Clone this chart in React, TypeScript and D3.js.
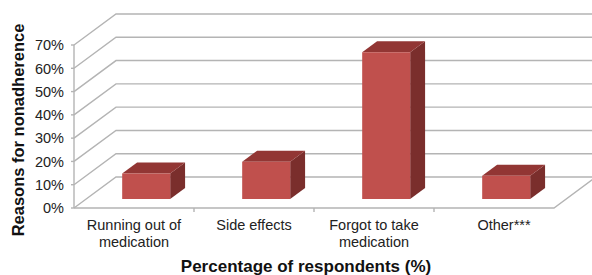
import React from "react";
import * as d3 from "d3";

const categories: string[][] = [
  ["Running out of", "medication"],
  ["Side effects"],
  ["Forgot to take", "medication"],
  ["Other***"],
];
const values: number[] = [11, 16, 63, 10];
const yTicks: number[] = [0, 10, 20, 30, 40, 50, 60, 70];

const W = 592;
const H = 275;
const X0 = 74;
const X1 = 554;
const Y0 = 208;
const Y70 = 45;
const DX = 42;
const DY = -31;
const Z_FRONT = 0.29;
const Z_BACK = 0.645;

export default function App() {
  const x = d3
    .scaleBand<number>()
    .domain(categories.map((_, i) => i))
    .range([X0, X1])
    .paddingInner(0)
    .paddingOuter(0);
  const y = d3.scaleLinear().domain([0, 70]).range([Y0, Y70]);
  const proj = (px: number, v: number, z: number): [number, number] => [
    px + z * DX,
    y(v) + z * DY,
  ];
  const pts = (arr: [number, number][]) => arr.map((p) => p.join(",")).join(" ");
  const line = d3.line();

  const grid = "#B4B4B4";
  const font = "'Liberation Sans', Arial, sans-serif";
  const bw = x.bandwidth() / 2.5;

  return (
    <svg width={W} height={H} style={{ position: "absolute", left: 0, top: 0 }}>
      <rect width={W} height={H} fill="#fff" />
      {yTicks.map((t) => (
        <g key={t}>
          <path
            d={line([proj(X0, t, 0), proj(X0, t, 1), proj(X1 + 60, t, 1)]) || ""}
            fill="none"
            stroke={grid}
            strokeWidth={1.4}
          />
          <line x1={X0 - 3} x2={X0} y1={y(t)} y2={y(t)} stroke={grid} strokeWidth={1.4} />
          <text
            x={X0 - 10}
            y={y(t)}
            dy="0.36em"
            textAnchor="end"
            fontFamily={font}
            fontSize={14.5}
            fill="#222"
          >
            {t}%
          </text>
        </g>
      ))}
      <line x1={X0} x2={X0} y1={y(0)} y2={y(70)} stroke={grid} strokeWidth={1.4} />
      <path
        d={line([proj(X0, 0, 0), proj(X1, 0, 0), proj(X1, 0, 1)]) || ""}
        fill="none"
        stroke={grid}
        strokeWidth={1.4}
      />
      {categories.slice(1).map((_, i) => {
        const bx = x(i + 1)!;
        return (
          <line key={i} x1={bx} x2={bx} y1={y(0)} y2={y(0) + 4} stroke={grid} strokeWidth={1.4} />
        );
      })}
      {values.map((v, i) => {
        const cx = x(i)! + x.bandwidth() / 2;
        const l = cx - bw / 2;
        const r = cx + bw / 2;
        const front: [number, number][] = [
          proj(l, 0, Z_FRONT),
          proj(r, 0, Z_FRONT),
          proj(r, v, Z_FRONT),
          proj(l, v, Z_FRONT),
        ];
        const top: [number, number][] = [
          proj(l, v, Z_FRONT),
          proj(r, v, Z_FRONT),
          proj(r, v, Z_BACK),
          proj(l, v, Z_BACK),
        ];
        const side: [number, number][] = [
          proj(r, 0, Z_FRONT),
          proj(r, 0, Z_BACK),
          proj(r, v, Z_BACK),
          proj(r, v, Z_FRONT),
        ];
        return (
          <g key={i}>
            <polygon points={pts(side)} fill="#7A2E2C" />
            <polygon points={pts(top)} fill="#923634" />
            <polygon points={pts(front)} fill="#C0504D" />
          </g>
        );
      })}
      {categories.map((lines, i) => {
        const cx = x(i)! + x.bandwidth() / 2 + (lines[0].startsWith("Other") ? 10 : 0);
        return (
          <text
            key={i}
            x={cx}
            y={230}
            textAnchor="middle"
            fontFamily={font}
            fontSize={14.5}
            fill="#222"
          >
            {lines.map((s, j) => (
              <tspan key={j} x={cx} dy={j === 0 ? 0 : 17}>
                {s}
              </tspan>
            ))}
          </text>
        );
      })}
      <text
        x={306}
        y={272}
        textAnchor="middle"
        fontFamily={font}
        fontSize={17}
        fontWeight="bold"
        fill="#111"
      >
        Percentage of respondents (%)
      </text>
      <text
        transform={`translate(24,130) rotate(-90)`}
        textAnchor="middle"
        fontFamily={font}
        fontSize={16.5}
        fontWeight="bold"
        fill="#111"
      >
        Reasons for nonadherence
      </text>
    </svg>
  );
}
